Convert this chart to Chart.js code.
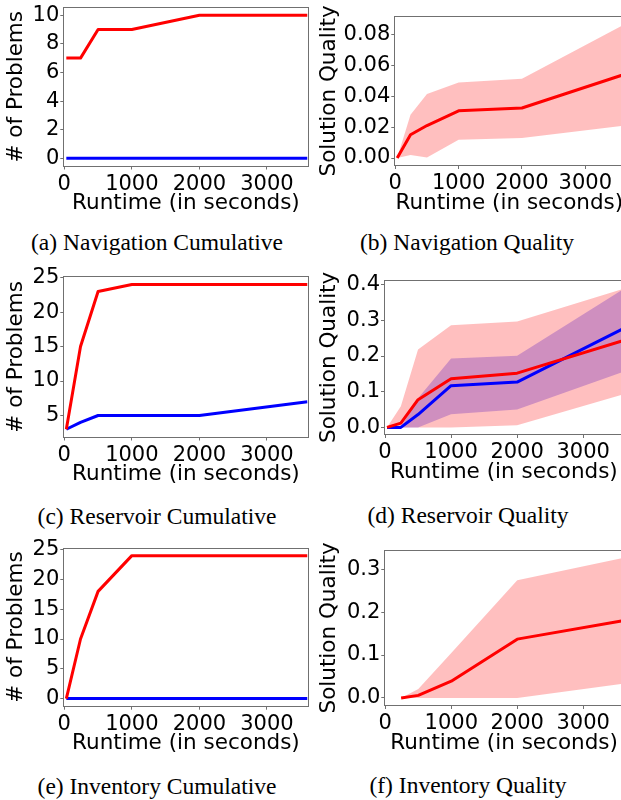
<!DOCTYPE html>
<html><head><meta charset="utf-8">
<script src="https://cdn.jsdelivr.net/npm/chart.js@4/dist/chart.umd.min.js"></script>
<style>
html,body{margin:0;padding:0;background:#fff;width:621px;height:800px;overflow:hidden;position:relative}
canvas{position:absolute}
.cap{position:absolute;font-family:"Liberation Serif","Times New Roman",serif;font-size:23.5px;color:#000;white-space:nowrap;transform:translate(-50%,-50%);line-height:1}
</style></head><body>
<script>
// ---------- data ----------
const runtimes = [30, 240, 500, 1000, 2000, 3600];
const xTicks = [0, 1000, 2000, 3000];

const navCumRed  = [7, 7, 9, 9, 10, 10];
const navCumBlue = [0, 0, 0, 0, 0, 0];
const navQualRed      = [0, 0.015, 0.021, 0.0305, 0.0323, 0.0538];
const navQualRedUpper = [0, 0.028, 0.0413, 0.0488, 0.0512, 0.086];
const navQualRedLower = [0, 0.002, 0.0004, 0.0118, 0.0129, 0.0209];

const resCumRed  = [3, 15, 23, 24, 24, 24];
const resCumBlue = [3, 4, 5, 5, 5, 7];
const resQualRed       = [0, 0.012, 0.0776, 0.136, 0.152, 0.243];
const resQualRedUpper  = [0, 0.059, 0.218, 0.286, 0.297, 0.388];
const resQualRedLower  = [0, 0, 0, 0, 0.006, 0.092];
const resQualBlue      = [0, 0, 0.036, 0.117, 0.127, 0.276];
const resQualBlueUpper = [0, 0, 0.082, 0.193, 0.201, 0.386];
const resQualBlueLower = [0, 0, 0, 0.037, 0.05, 0.155];

const invCumRed  = [0, 10, 18, 24, 24, 24];
const invCumBlue = [0, 0, 0, 0, 0, 0];
const invQualRed      = [null, 0, 0.006, 0.039, 0.137, 0.18];
const invQualRedUpper = [null, 0, 0.021, 0.105, 0.274, 0.326];
const invQualRedLower = [null, 0, 0, 0, 0, 0.033];

const cumTicksNav = [0, 2, 4, 6, 8, 10];
const cumTicksRes = [5, 10, 15, 20, 25];
const cumTicksInv = [0, 5, 10, 15, 20, 25];
const qualTicksNav = [0, 0.02, 0.04, 0.06, 0.08];
const qualTicksRes = [0, 0.1, 0.2, 0.3, 0.4];
const qualTicksInv = [0, 0.1, 0.2, 0.3];

const captions = ["(a) Navigation Cumulative", "(b) Navigation Quality", "(c) Reservoir Cumulative",
                  "(d) Reservoir Quality", "(e) Inventory Cumulative", "(f) Inventory Quality"];
const yTitles = ["# of Problems", "Solution Quality"];
const xTitle = "Runtime (in seconds)";

// ---------- style ----------
const RED = '#ff0000', BLUE = '#0000ff';
const RED_BAND = 'rgba(255,0,0,0.25)', BLUE_BAND = 'rgba(0,0,255,0.25)';
const TICK_FONT = {family: 'DejaVu Sans', size: 21};
const TITLE_SIZE = 21.5;
const TITLE_FONT = {family: 'DejaVu Sans', size: TITLE_SIZE, lineHeight: 1.2};
const TITLE_LH = TITLE_SIZE * 1.2;
const X_TITLE_OFF = 38;

const panels = [
  {box:{l:64.3,t:8,r:307.5,b:165.5}, yTitleX:17, yMin:-0.5, yMax:10.5, yTicks:cumTicksNav, dec:0, yTitle:yTitles[0], cap:captions[0], capX:157, capY:243,
   lines:[{d:navCumRed,c:RED},{d:navCumBlue,c:BLUE}], bands:[]},
  {box:{l:395.3,t:16.7,r:623.3,b:165}, yTitleX:330, yMin:-0.0045, yMax:0.0913, yTicks:qualTicksNav, dec:2, yTitle:yTitles[1], cap:captions[1], capX:467, capY:243,
   lines:[{d:navQualRed,c:RED}], bands:[{u:navQualRedUpper,l:navQualRedLower,c:RED_BAND}]},
  {box:{l:64.3,t:277.3,r:307.5,b:436.5}, yTitleX:17, yMin:1.95, yMax:25.05, yTicks:cumTicksRes, dec:0, yTitle:yTitles[0], cap:captions[2], capX:157, capY:517,
   lines:[{d:resCumRed,c:RED},{d:resCumBlue,c:BLUE}], bands:[]},
  {box:{l:385,t:280.7,r:622.8,b:434}, yTitleX:330, yMin:-0.0185, yMax:0.411, yTicks:qualTicksRes, dec:1, yTitle:yTitles[1], cap:captions[3], capX:468, capY:516,
   lines:[{d:resQualRed,c:RED},{d:resQualBlue,c:BLUE}], bands:[{u:resQualRedUpper,l:resQualRedLower,c:RED_BAND},{u:resQualBlueUpper,l:resQualBlueLower,c:BLUE_BAND}]},
  {box:{l:64.3,t:548.5,r:307.5,b:705.7}, yTitleX:17, yMin:-1.2, yMax:25.2, yTicks:cumTicksInv, dec:0, yTitle:yTitles[0], cap:captions[4], capX:157, capY:787,
   lines:[{d:invCumRed,c:RED},{d:invCumBlue,c:BLUE}], bands:[]},
  {box:{l:385.3,t:550.7,r:622.8,b:705}, yTitleX:330, yMin:-0.0164, yMax:0.343, yTicks:qualTicksInv, dec:1, yTitle:yTitles[1], cap:captions[5], capX:468, capY:786,
   lines:[{d:invQualRed,c:RED}], bands:[{u:invQualRedUpper,l:invQualRedLower,c:RED_BAND}]}
];

const framePlugin = {
  id: 'frame',
  afterDatasetsDraw(chart) {
    const {ctx, chartArea: a} = chart;
    ctx.save();
    ctx.strokeStyle = '#707070';
    ctx.lineWidth = 1;
    const l = Math.round(a.left) - 0.5, t = Math.round(a.top) - 0.5;
    const r = Math.round(a.right) + 0.5, b = Math.round(a.bottom) + 0.5;
    ctx.strokeRect(l, t, r - l, b - t);
    ctx.restore();
  }
};

const pts = arr => runtimes.map((x, i) => ({x: x, y: arr[i]}));

panels.forEach((p, idx) => {
  const box = p.box;
  const padTop = 16, padRight = 4;
  const canvasLeft = Math.round(p.yTitleX - TITLE_LH / 2);
  const yAxisW = box.l - canvasLeft;
  const canvasTop = Math.round(box.t - padTop);
  const topPad = box.t - canvasTop;
  const xAxisH = X_TITLE_OFF + TITLE_LH / 2;
  const W = Math.ceil(box.r + padRight - canvasLeft);
  const rightPad = W - (box.r - canvasLeft);
  const H = Math.ceil(topPad + (box.b - box.t) + xAxisH + 2);
  const bottomPad = H - (topPad + (box.b - box.t) + xAxisH);

  const cv = document.createElement('canvas');
  cv.width = W; cv.height = H;
  cv.style.left = canvasLeft + 'px'; cv.style.top = canvasTop + 'px';
  cv.style.width = W + 'px'; cv.style.height = H + 'px';
  document.body.appendChild(cv);

  const cap = document.createElement('div');
  cap.className = 'cap';
  cap.textContent = p.cap;
  cap.style.left = p.capX + 'px'; cap.style.top = p.capY + 'px';
  document.body.appendChild(cap);

  const datasets = [];
  // lines: lowest order drawn on top; red line on top
  p.lines.forEach((ln, i) => {
    datasets.push({data: pts(ln.d), borderColor: ln.c, borderWidth: 3, pointRadius: 0, fill: false,
      tension: 0, borderJoinStyle: 'round', order: i + 1});
  });
  // bands: red band composited over the blue band
  p.bands.forEach((bd, i) => {
    const upIdx = datasets.length;
    datasets.push({data: pts(bd.u), borderColor: 'rgba(0,0,0,0)', borderWidth: 0, pointRadius: 0,
      fill: upIdx + 1, backgroundColor: bd.c, order: 10 + i});
    datasets.push({data: pts(bd.l), borderColor: 'rgba(0,0,0,0)', borderWidth: 0, pointRadius: 0,
      fill: false, order: 10 + i});
  });

  new Chart(cv, {
    type: 'line',
    data: {datasets: datasets},
    plugins: [framePlugin],
    options: {
      responsive: false, animation: false, devicePixelRatio: 1,
      layout: {padding: {left: 0, top: topPad, right: rightPad, bottom: bottomPad}},
      plugins: {legend: {display: false}, tooltip: {enabled: false}, filler: {drawTime: 'beforeDatasetsDraw'}},
      scales: {
        x: {
          type: 'linear', min: 0, max: 3600,
          afterBuildTicks: s => { s.ticks = xTicks.map(v => ({value: v})); },
          afterFit: s => { s.height = xAxisH; },
          ticks: {font: TICK_FONT, color: '#000', padding: 2, maxRotation: 0, callback: v => String(v)},
          grid: {display: true, drawOnChartArea: false, drawTicks: true, tickLength: 4, color: '#707070', lineWidth: 1},
          border: {display: false},
          title: {display: true, text: xTitle, font: TITLE_FONT, color: '#000', padding: 0}
        },
        y: {
          type: 'linear', min: p.yMin, max: p.yMax,
          afterBuildTicks: s => { s.ticks = p.yTicks.map(v => ({value: v})); },
          afterFit: s => { s.width = yAxisW; },
          ticks: {font: TICK_FONT, color: '#000', padding: 1, callback: v => v.toFixed(p.dec)},
          grid: {display: true, drawOnChartArea: false, drawTicks: true, tickLength: 4, color: '#707070', lineWidth: 1},
          border: {display: false},
          title: {display: true, text: p.yTitle, font: TITLE_FONT, color: '#000', padding: 0}
        }
      }
    }
  });
});
</script>
</body></html>
